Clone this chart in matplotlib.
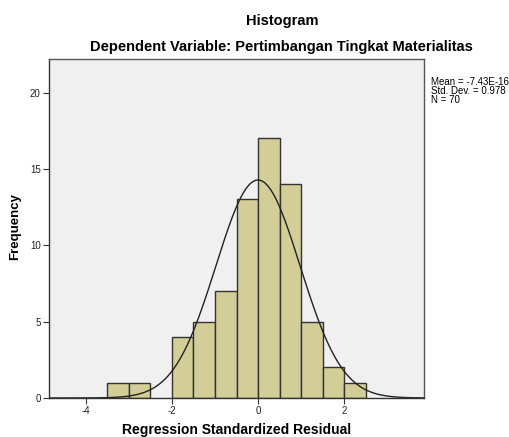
import numpy as np
import matplotlib
matplotlib.use('Agg')
import matplotlib.pyplot as plt

plt.rcParams['font.family'] = ['Liberation Sans', 'DejaVu Sans']

# bin edges (width 0.5) and counts
binEdges = [-3.5, -3.0, -2.5, -2.0, -1.5, -1.0, -0.5, 0.0, 0.5, 1.0, 1.5, 2.0, 2.5]
counts = [1, 1, 0, 4, 5, 7, 13, 17, 14, 5, 2, 1]
mean = -7.43e-16
stdDev = 0.978
n = 70

fig = plt.figure(figsize=(5.10, 4.37), dpi=100)
ax = fig.add_axes([49/510, 1 - 398/437, (424-49)/510, (398-59)/437])
ax.set_facecolor('#F0F0F0')

lefts = np.array(binEdges[:-1])
widths = np.diff(binEdges)
for l, w, c in zip(lefts, widths, counts):
    if c > 0:
        ax.bar(l, c, width=w, align='edge', color='#D3CE97', edgecolor='#333333', linewidth=1.0)

# normal curve scaled to counts
xs = np.linspace(-4.86, 3.86, 400)
ys = n * 0.5 * np.exp(-0.5 * ((xs - mean) / stdDev) ** 2) / (stdDev * np.sqrt(2 * np.pi))
ax.plot(xs, ys, color='#222222', linewidth=1.0)

ax.set_xlim(-4.86, 3.86)
ax.set_ylim(0, 22.2)
ax.set_xticks([-4, -2, 0, 2])
ax.set_xticklabels(['-4', '-2', '0', '2'])
ax.set_yticks([0, 5, 10, 15, 20])
ax.tick_params(direction='out', length=4, labelsize=7, color='#333333', labelcolor='#222222', pad=2)
for s in ax.spines.values():
    s.set_color('#555555')
    s.set_linewidth(1.0)
ax.spines['left'].set_color('#333333')
ax.spines['bottom'].set_color('#333333')

ax.set_xlabel('Regression Standardized Residual', fontsize=10, fontweight='bold')
ax.xaxis.set_label_coords((237-49)/375, (398-430)/339)
ax.set_ylabel('Frequency', fontsize=9.5, fontweight='bold')
ax.yaxis.set_label_coords((15-49)/375, (398-227)/339)
ax.yaxis.label.set_va('center')
ax.xaxis.label.set_va('center')

fig.text(282/510, 1 - 21/437, 'Histogram', ha='center', va='center', fontsize=10.5, fontweight='bold')
fig.text(281/510, 1 - 47/437, 'Dependent Variable: Pertimbangan Tingkat Materialitas',
         ha='center', va='center', fontsize=10.5, fontweight='bold')

fig.text(431/510, 1 - 77/437, 'Mean = -7.43E-16\nStd. Dev. = 0.978\nN = 70',
         ha='left', va='top', fontsize=7, linespacing=0.9)

plt.savefig('out.png', dpi=100)
